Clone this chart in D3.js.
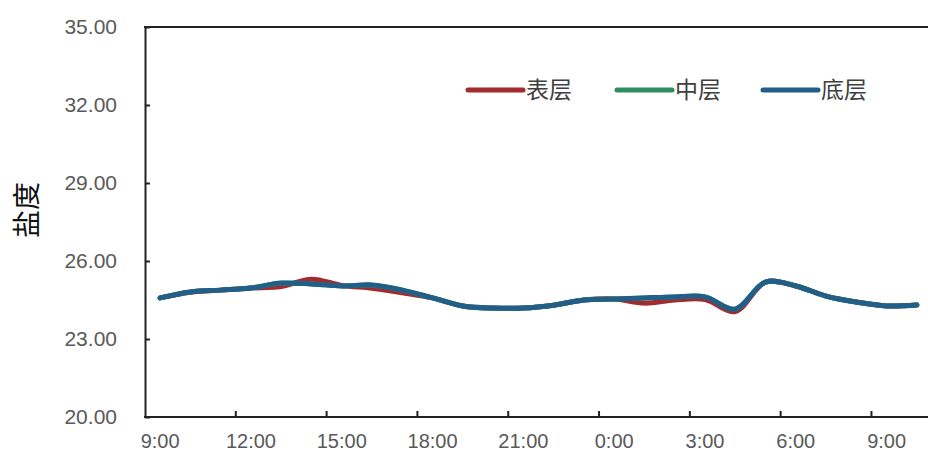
<!DOCTYPE html>
<html><head><meta charset="utf-8">
<script src="https://cdn.jsdelivr.net/npm/d3@7/dist/d3.min.js"></script>
<style>body{margin:0;background:#fff;} svg{display:block;}</style>
</head><body>
<svg id="c" width="928" height="457"></svg>
<script>
const categories = ["9:00","10:00","11:00","12:00","13:00","14:00","15:00","16:00","17:00","18:00","19:00","20:00","21:00","22:00","23:00","0:00","1:00","2:00","3:00","4:00","5:00","6:00","7:00","8:00","9:00 ","10:00 "];
const surface = [24.58,24.80,24.88,24.96,25.02,25.30,25.06,24.95,24.78,24.58,24.27,24.19,24.19,24.30,24.50,24.54,24.38,24.50,24.52,24.06,25.19,25.04,24.65,24.42,24.27,24.31];
const middle  = [24.58,24.81,24.88,24.96,25.14,25.12,25.04,25.07,24.88,24.58,24.27,24.19,24.19,24.30,24.50,24.54,24.58,24.62,24.62,24.15,25.19,25.04,24.65,24.42,24.27,24.31];
const bottom  = [24.58,24.81,24.88,24.96,25.15,25.12,25.04,25.08,24.88,24.58,24.27,24.19,24.19,24.30,24.50,24.54,24.58,24.62,24.62,24.15,25.19,25.04,24.65,24.42,24.27,24.31];
const seriesNames = ["表层","中层","底层"];
const seriesColors = ["#a12b2e","#2e8d63","#215f88"];
const yTicks = [20,23,26,29,32,35];
const xLabelIdx = [0,3,6,9,12,15,18,21,24];
const yTitle = "盐度";

const data = [surface, middle, bottom];

const svg = d3.select("#c");
const x = d3.scaleBand().domain(categories).range([145, 932]).padding(0);
const y = d3.scaleLinear().domain([20,35]).range([417, 27]);
const font = "'Liberation Sans', Arial, sans-serif";

// y axis
const ya = svg.append("g").attr("transform","translate(145,0)")
  .call(d3.axisLeft(y).tickValues(yTicks).tickFormat(d3.format(".2f")).tickSizeInner(-5).tickSizeOuter(0).tickPadding(28));
ya.select(".domain").attr("stroke","#222").attr("stroke-width",2);
ya.selectAll(".tick line").attr("stroke","#222").attr("stroke-width",2);
ya.selectAll(".tick text").attr("fill","#595959").style("font-family",font).style("font-size","21px");

// top border
svg.append("line").attr("x1",144).attr("x2",932).attr("y1",y(35)).attr("y2",y(35)).attr("stroke","#222").attr("stroke-width",2);

// x axis labels
const xa = svg.append("g").attr("transform","translate(0,417)")
  .call(d3.axisBottom(x).tickValues(xLabelIdx.map(i=>categories[i])).tickSize(0).tickPadding(17).tickFormat(d=>d.trim()));
xa.select(".domain").remove();
xa.selectAll(".tick text").attr("fill","#595959").style("font-family",font).style("font-size","20px");
svg.append("line").attr("x1",144).attr("x2",932).attr("y1",417).attr("y2",417).attr("stroke","#222").attr("stroke-width",2);
svg.append("g").selectAll("line").data(xLabelIdx.slice(1)).join("line")
  .attr("x1",i=>x(categories[i])).attr("x2",i=>x(categories[i]))
  .attr("y1",417).attr("y2",411).attr("stroke","#222").attr("stroke-width",2);

// y title
svg.append("text").attr("transform","translate(37,210) rotate(-90)")
  .attr("text-anchor","middle").style("font-family","'Noto Sans CJK SC', sans-serif")
  .style("font-size","28px").attr("fill","#111").text(yTitle);

// lines
const line = d3.line().x((d,i)=>x(categories[i])+x.bandwidth()/2).y(d=>y(d)).curve(d3.curveCatmullRom.alpha(0.5));
data.forEach((s,k)=>{
  svg.append("path").datum(s).attr("d",line).attr("fill","none")
    .attr("stroke",seriesColors[k]).attr("stroke-width",5).attr("stroke-linejoin","round").attr("stroke-linecap","round");
});

// legend
const legX = [468,617,763];
seriesNames.forEach((n,k)=>{
  svg.append("line").attr("x1",legX[k]).attr("x2",legX[k]+55).attr("y1",90).attr("y2",90)
    .attr("stroke",seriesColors[k]).attr("stroke-width",5).attr("stroke-linecap","round");
  svg.append("text").attr("x",legX[k]+58).attr("y",90).attr("dy","0.36em")
    .style("font-family","'Noto Sans CJK SC', sans-serif").style("font-size","23px")
    .attr("fill","#404040").text(n);
});
</script>
</body></html>
